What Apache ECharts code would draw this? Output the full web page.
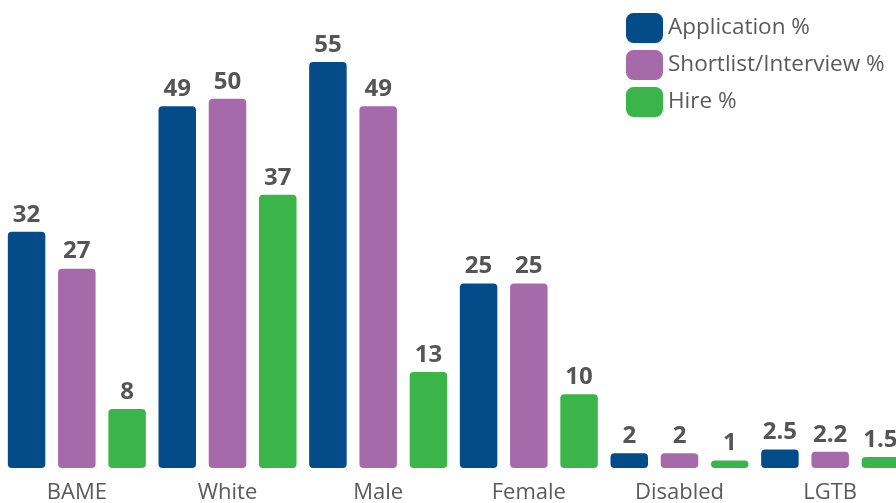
<!DOCTYPE html>
<html><head><meta charset="utf-8">
<script src="https://cdn.jsdelivr.net/npm/echarts@6/dist/echarts.min.js"></script>
<style>html,body{margin:0;padding:0;background:#fff}#c{width:896px;height:503px}</style>
</head><body><div id="c"></div>
<script>
const categories = ['BAME','White','Male','Female','Disabled','LGTB'];
const application = [32, 49, 55, 25, 2, 2.5];
const shortlist = [27, 50, 49, 25, 2, 2.2];
const hire = [8, 37, 13, 10, 1, 1.5];
const seriesNames = ['Application %','Shortlist/Interview %','Hire %'];
const colors = ['#034b89','#a66aaa','#3bb54a'];

const chart = echarts.init(document.getElementById('c'), null, {renderer:'canvas'});
const font = '"Open Sans", sans-serif';
function mk(name, data, color){
  return {
    name, type:'bar', data, barWidth:37.5, barGap:'34%',
    itemStyle:{color, borderRadius:4},
    label:{show:true, position:'top', distance:5, color:'#555', fontWeight:'bold', fontSize:24, fontFamily:font},
    barMinHeight:6
  };
}
chart.setOption({
  animation:false,
  color: colors,
  grid:{left:1.5, width:904, top:25, bottom:35, containLabel:false, outerBoundsMode:'none'},
  legend:{orient:'vertical', left:621, top:8, itemWidth:37, itemHeight:30, itemGap:7, icon:'roundRect',
    textStyle:{fontSize:22.5, color:'#5a5a5a', fontFamily:font}, data:seriesNames},
  xAxis:{type:'category', data:categories, axisLine:{show:false}, axisTick:{show:false},
    axisLabel:{color:'#5a5a5a', fontSize:22, fontFamily:font, margin:14}},
  yAxis:{type:'value', min:0, max:60, show:false, splitLine:{show:false}},
  series:[mk(seriesNames[0], application, colors[0]), mk(seriesNames[1], shortlist, colors[1]), mk(seriesNames[2], hire, colors[2])]
});
</script></body></html>
